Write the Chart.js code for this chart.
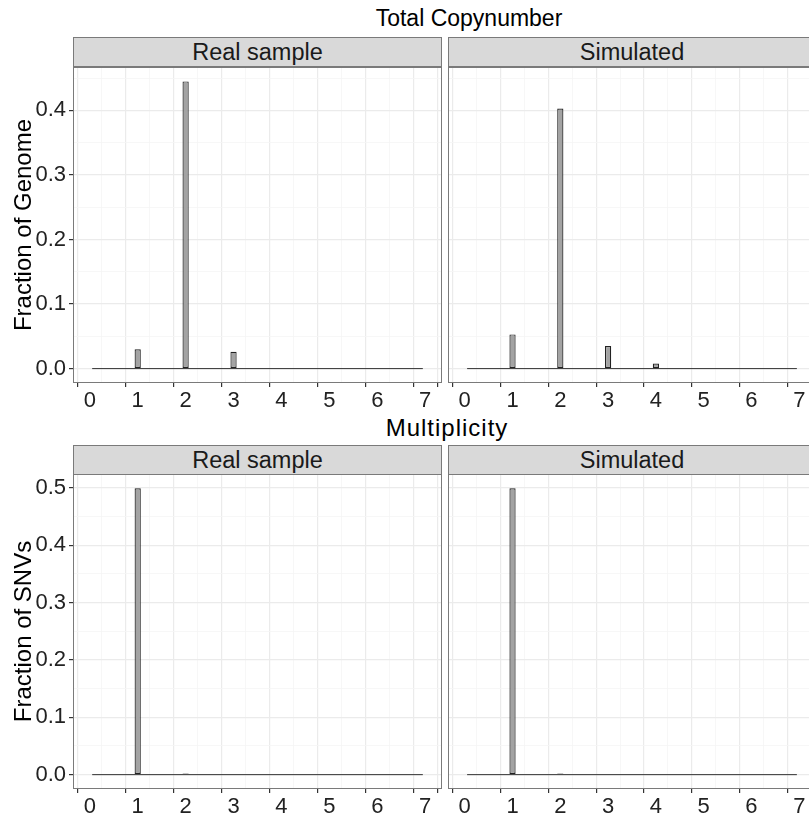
<!DOCTYPE html>
<html>
<head>
<meta charset="utf-8">
<script src="https://cdn.jsdelivr.net/npm/chart.js@4.4.0/dist/chart.umd.min.js"></script>
<style>
  html, body { margin: 0; padding: 0; background: #fff; overflow: hidden; }
  body { width: 809px; height: 818px; position: relative; font-family: "Liberation Sans", Arial, sans-serif; }
  canvas { position: absolute; }
  .title { position: absolute; font-size: 23px; color: #000; white-space: nowrap; transform: translateX(-50%); }
  .strip { position: absolute; box-sizing: border-box; height: 30px; background: #D9D9D9; border: 1px solid #7a7a7a;
           font-size: 23.5px; color: #1A1A1A; text-align: center; line-height: 28px; white-space: nowrap; }
</style>
</head>
<body>

<div class="title" style="left:469px; top:5px;">Total Copynumber</div>
<div class="strip" style="left:73px; top:37px; width:369px;">Real sample</div>
<div class="strip" style="left:448px; top:37px; width:368px;">Simulated</div>
<canvas id="cnReal" width="442" height="346" style="left:0; top:67px;"></canvas>
<canvas id="cnSim" width="368" height="346" style="left:448px; top:67px;"></canvas>

<div class="title" style="left:447px; top:414px; font-size:24px; letter-spacing:1px;">Multiplicity</div>
<div class="strip" style="left:73px; top:445px; width:369px;">Real sample</div>
<div class="strip" style="left:448px; top:445px; width:368px;">Simulated</div>
<canvas id="mulReal" width="442" height="345" style="left:0; top:474px;"></canvas>
<canvas id="mulSim" width="368" height="345" style="left:448px; top:474px;"></canvas>

<script>
// histogram values (only the non-empty bins)
const cnRealX = [1, 2, 3];
const cnRealY = [0.030, 0.445, 0.026];
const cnSimX = [1, 2, 3, 4];
const cnSimY = [0.053, 0.403, 0.035, 0.008];
const mulRealX = [1, 2];
const mulRealY = [0.499, 0.002];
const mulSimX = [1, 2];
const mulSimY = [0.499, 0.002];

// first and last bin edges of the histograms (empty bins lie on y = 0)
const binEdges = [0.05, 6.95];

// axis ticks
const xTicks = [0, 1, 2, 3, 4, 5, 6, 7];
const cnYTicks = [0, 0.1, 0.2, 0.3, 0.4];
const mulYTicks = [0, 0.1, 0.2, 0.3, 0.4, 0.5];
const xRange = [-0.35, 7.35];
const cnYRange = [-0.0223, 0.4673];
const mulYRange = [-0.025, 0.524];

const FONT = "'Liberation Sans', Arial, sans-serif";

// ggplot style: major grid on the ticks, minor grid half way between
function withMinor(major) {
  const out = [];
  const step = major[1] - major[0];
  major.forEach(v => { out.push(v); out.push(+(v + step / 2).toFixed(4)); });
  return out;
}
function isMajor(list, v) {
  return list.some(t => Math.abs(t - v) < 1e-6);
}
function tickIsMajor(list, c) {
  return c.tick ? isMajor(list, c.tick.value) : true;
}

// draws the panel border round the plot area
const panelBorder = {
  id: 'panelBorder',
  afterDraw(chart) {
    const a = chart.chartArea;
    const c = chart.ctx;
    c.save();
    c.strokeStyle = '#7a7a7a';
    c.lineWidth = 1;
    c.strokeRect(a.left + 0.5, a.top + 0.5, a.right - a.left - 1, a.bottom - a.top - 1);
    c.restore();
  }
};

function makePanel(id, xs, ys, yTicks, yRange, yTitle) {
  const ctx = document.getElementById(id).getContext('2d');
  const showY = yTitle !== null;
  return new Chart(ctx, {
    type: 'bar',
    data: {
      datasets: [{
        type: 'line',
        data: binEdges.map(x => ({x: x, y: 0})),
        borderColor: '#333333',
        borderWidth: 1,
        pointRadius: 0,
        order: 0
      }, {
        data: xs.map((x, i) => ({x: x, y: ys[i]})),
        backgroundColor: '#A3A3A3',
        borderColor: '#222222',
        borderWidth: 1.2,
        borderSkipped: false,
        inflateAmount: 0,
        // bar width is relative to the 0.5 grid spacing -> 0.125 x units
        barPercentage: 0.26,
        categoryPercentage: 1,
        order: 1
      }]
    },
    options: {
      responsive: false,
      animation: false,
      layout: { padding: 0 },
      plugins: { legend: { display: false }, tooltip: { enabled: false } },
      scales: {
        x: {
          type: 'linear',
          min: xRange[0],
          max: xRange[1],
          offset: false,
          afterBuildTicks: s => { s.ticks = withMinor(xTicks).filter(v => v <= xRange[1]).map(v => ({value: v})); },
          afterFit: s => { s.height = 30; s.paddingLeft = 0; s.paddingRight = 0; },
          border: { display: false },
          grid: {
            color: c => tickIsMajor(xTicks, c) ? '#EBEBEB' : '#F5F5F5',
            lineWidth: c => tickIsMajor(xTicks, c) ? 1.2 : 0.8,
            tickColor: c => tickIsMajor(xTicks, c) ? '#333333' : 'rgba(0,0,0,0)',
            tickLength: 4
          },
          ticks: {
            autoSkip: false,
            maxRotation: 0,
            padding: 1,
            color: '#222',
            font: { family: FONT, size: 22 },
            callback: v => isMajor(xTicks, v) ? String(Math.round(v)) : ''
          }
        },
        y: {
          min: yRange[0],
          max: yRange[1],
          afterBuildTicks: s => { s.ticks = withMinor(yTicks).filter(v => v <= yRange[1]).map(v => ({value: v})); },
          afterFit: s => { s.width = showY ? 73 : 0; s.paddingTop = 0; s.paddingBottom = 0; },
          border: { display: false },
          grid: {
            color: c => tickIsMajor(yTicks, c) ? '#EBEBEB' : '#F5F5F5',
            lineWidth: c => tickIsMajor(yTicks, c) ? 1.2 : 0.8,
            tickColor: c => (showY && tickIsMajor(yTicks, c)) ? '#333333' : 'rgba(0,0,0,0)',
            tickLength: 4
          },
          ticks: {
            display: showY,
            autoSkip: false,
            padding: 3,
            color: '#222',
            font: { family: FONT, size: 22 },
            callback: v => isMajor(yTicks, v) ? v.toFixed(1) : ''
          },
          title: {
            display: showY,
            text: yTitle || '',
            color: '#000',
            font: { family: FONT, size: 24 },
            padding: { top: 10, bottom: 0 }
          }
        }
      }
    },
    plugins: [panelBorder]
  });
}

makePanel('cnReal', cnRealX, cnRealY, cnYTicks, cnYRange, 'Fraction of Genome');
makePanel('cnSim', cnSimX, cnSimY, cnYTicks, cnYRange, null);
makePanel('mulReal', mulRealX, mulRealY, mulYTicks, mulYRange, 'Fraction of SNVs');
makePanel('mulSim', mulSimX, mulSimY, mulYTicks, mulYRange, null);
</script>
</body>
</html>
